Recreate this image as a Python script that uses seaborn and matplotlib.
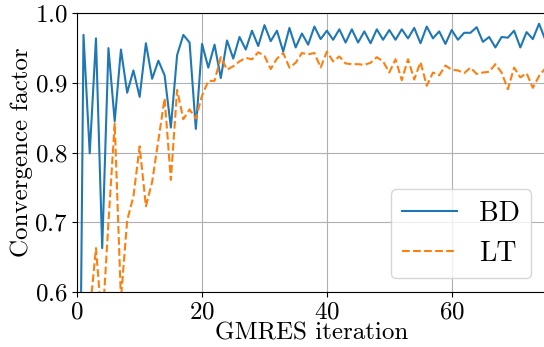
import matplotlib as mpl
mpl.use("Agg")
import matplotlib.pyplot as plt
import pandas as pd
import seaborn as sns

# convergence factor per GMRES iteration
iterations = list(range(76))
bd = [0.0, 0.969, 0.799, 0.964, 0.663, 0.950, 0.845, 0.948, 0.886, 0.918,
      0.880, 0.957, 0.906, 0.932, 0.911, 0.836, 0.940, 0.969, 0.958, 0.834,
      0.956, 0.922, 0.955, 0.907, 0.961, 0.935, 0.966, 0.948, 0.975, 0.953,
      0.983, 0.960, 0.975, 0.945, 0.979, 0.951, 0.971, 0.955, 0.981, 0.963,
      0.975, 0.962, 0.977, 0.958, 0.977, 0.958, 0.974, 0.957, 0.977, 0.962,
      0.976, 0.962, 0.977, 0.964, 0.979, 0.957, 0.981, 0.964, 0.974, 0.956,
      0.976, 0.962, 0.972, 0.972, 0.980, 0.959, 0.966, 0.951, 0.966, 0.965,
      0.975, 0.951, 0.973, 0.963, 0.985, 0.962]
lt = [0.40, 0.45, 0.57, 0.663, 0.55, 0.70, 0.842, 0.59, 0.703, 0.737,
      0.809, 0.723, 0.758, 0.818, 0.878, 0.761, 0.890, 0.848, 0.862, 0.849,
      0.882, 0.903, 0.903, 0.937, 0.919, 0.924, 0.931, 0.936, 0.934, 0.944,
      0.939, 0.920, 0.935, 0.943, 0.922, 0.929, 0.943, 0.941, 0.943, 0.922,
      0.945, 0.931, 0.938, 0.928, 0.927, 0.927, 0.926, 0.929, 0.937, 0.931,
      0.915, 0.934, 0.904, 0.934, 0.905, 0.930, 0.896, 0.915, 0.911, 0.925,
      0.919, 0.918, 0.914, 0.922, 0.913, 0.915, 0.916, 0.927, 0.915, 0.891,
      0.922, 0.908, 0.914, 0.893, 0.910, 0.921]
methods = ["BD", "LT"]
x_ticks = [0, 20, 40, 60]
y_ticks = [0.6, 0.7, 0.8, 0.9, 1.0]

mpl.rc("font", family="cmr10", size=18)
plt.rcParams["axes.formatter.use_mathtext"] = True
plt.rcParams["mathtext.fontset"] = "cm"

df = pd.DataFrame({
    "iteration": iterations * 2,
    "factor": bd + lt,
    "method": [methods[0]] * len(bd) + [methods[1]] * len(lt),
})

fig = plt.figure(figsize=(5.44, 3.47), dpi=100)
ax = fig.add_axes([0.142, 0.1585, 0.8604, 0.8032])

sns.lineplot(data=df, x="iteration", y="factor", hue="method", style="method",
             palette=["#1f77b4", "#ff7f0e"], dashes=["", (3.7, 1.6)],
             linewidth=1.5, ax=ax)

ax.set_xlim(0, 75)
ax.set_ylim(0.6, 1.0)
ax.set_xticks(x_ticks)
ax.set_yticks(y_ticks)
ax.grid(True, color="#b0b0b0", linewidth=0.8)
ax.set_xlabel("GMRES iteration", labelpad=-1)
ax.set_ylabel("Convergence factor", labelpad=1)
sns.move_legend(ax, "lower right", title=None, fontsize=20)

fig.savefig("out.png", dpi=100)
